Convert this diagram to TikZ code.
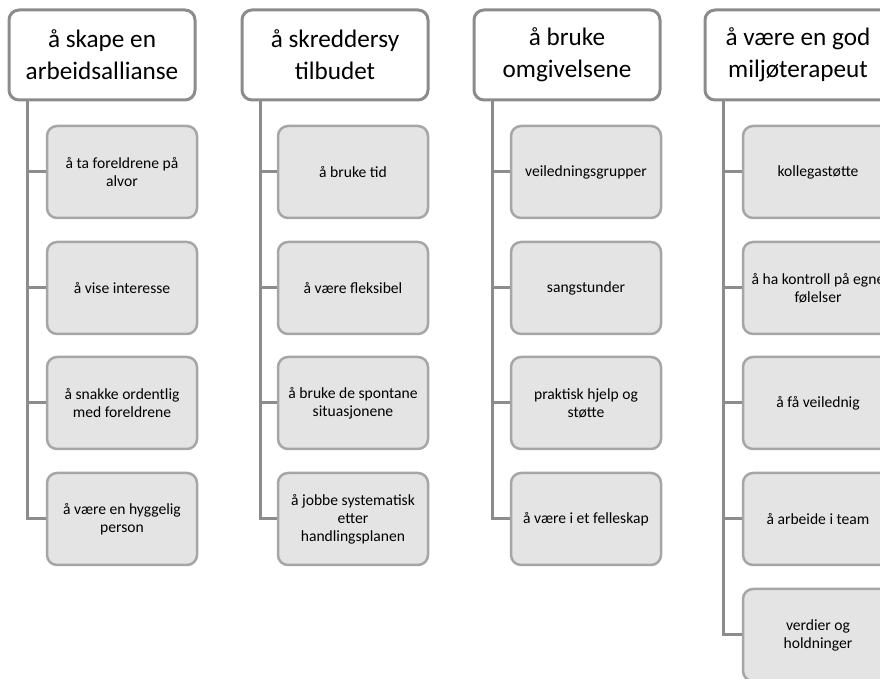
\documentclass[tikz,border=0pt]{standalone}
\usepackage{fontspec}
\setmainfont{Carlito}
\usepackage{tikz}
\definecolor{headgray}{HTML}{8C8C8C}
\definecolor{taskgray}{HTML}{A6A6A6}
\definecolor{taskfill}{HTML}{E4E4E4}
\definecolor{linkgray}{HTML}{8C8C8C}
\tikzset{
  head/.style={draw=headgray, line width=1.5pt, rounded corners=5pt, fill=white,
    minimum width=93pt, minimum height=45pt, inner sep=0pt, align=center,
    font=\fontsize{12.6}{16}\selectfont},
  task/.style={draw=taskgray, line width=1.25pt, rounded corners=5pt, fill=taskfill,
    minimum width=75pt, minimum height=46pt, inner sep=0pt, align=center,
    font=\fontsize{7.8}{9}\selectfont},
  link/.style={draw=linkgray, line width=1.5pt}
}
\begin{document}
\begin{tikzpicture}[x=0.5pt, y=-0.5pt]
            \useasboundingbox (0, 0) rectangle (880, 679);
            \clip (0, 0) rectangle (880, 679);

            \node[head] (skape) at (102, 55) {å skape en\\arbeidsallianse};
            \node[task] (alvor) at (122, 172) {å ta foreldrene på\\alvor};
            \node[task] (interesse) at (122, 288) {å vise interesse};
            \node[task] (snakke) at (122, 403) {å snakke ordentlig\\med foreldrene};
            \node[task] (hyggelig) at (122, 519) {å være en hyggelig\\person};

            \node[head] (skreddersy) at (335, 55) {å skreddersy\\tilbudet};
            \node[task] (tid) at (353, 172) {å bruke tid};
            \node[task] (fleksibel) at (353, 288) {å være fleksibel};
            \node[task] (spontane) at (353, 403) {å bruke de spontane\\situasjonene};
            \node[task] (systematisk) at (353, 519) {å jobbe systematisk\\etter\\handlingsplanen};

            \node[head] (omgivelsene) at (567, 55) {å bruke\\omgivelsene};
            \node[task] (grupper) at (586, 172) {veiledningsgrupper};
            \node[task] (sangstunder) at (586, 288) {sangstunder};
            \node[task] (hjelp) at (586, 403) {praktisk hjelp og\\støtte};
            \node[task] (felleskap) at (586, 519) {å være i et felleskap};

            \node[head] (terapeut) at (798, 55) {å være en god\\miljøterapeut};
            \node[task] (kollega) at (818, 172) {kollegastøtte};
            \node[task] (kontroll) at (818, 288) {å ha kontroll på egne\\følelser};
            \node[task] (veiledning) at (818, 403) {å få veilednig};
            \node[task] (team) at (818, 519) {å arbeide i team};
            \node[task] (verdier) at (818, 635) {verdier og\\holdninger};

            \draw[link] ([xshift=10pt]skape.south west) |- (alvor.west)
                ([xshift=10pt]skape.south west) |- (interesse.west)
                ([xshift=10pt]skape.south west) |- (snakke.west)
                ([xshift=10pt]skape.south west) |- (hyggelig.west);

            \draw[link] ([xshift=10pt]skreddersy.south west) |- (tid.west)
                ([xshift=10pt]skreddersy.south west) |- (fleksibel.west)
                ([xshift=10pt]skreddersy.south west) |- (spontane.west)
                ([xshift=10pt]skreddersy.south west) |- (systematisk.west);

            \draw[link] ([xshift=10pt]omgivelsene.south west) |- (grupper.west)
                ([xshift=10pt]omgivelsene.south west) |- (sangstunder.west)
                ([xshift=10pt]omgivelsene.south west) |- (hjelp.west)
                ([xshift=10pt]omgivelsene.south west) |- (felleskap.west);

            \draw[link] ([xshift=10pt]terapeut.south west) |- (kollega.west)
                ([xshift=10pt]terapeut.south west) |- (kontroll.west)
                ([xshift=10pt]terapeut.south west) |- (veiledning.west)
                ([xshift=10pt]terapeut.south west) |- (team.west)
                ([xshift=10pt]terapeut.south west) |- (verdier.west);
        \end{tikzpicture}
\end{document}
